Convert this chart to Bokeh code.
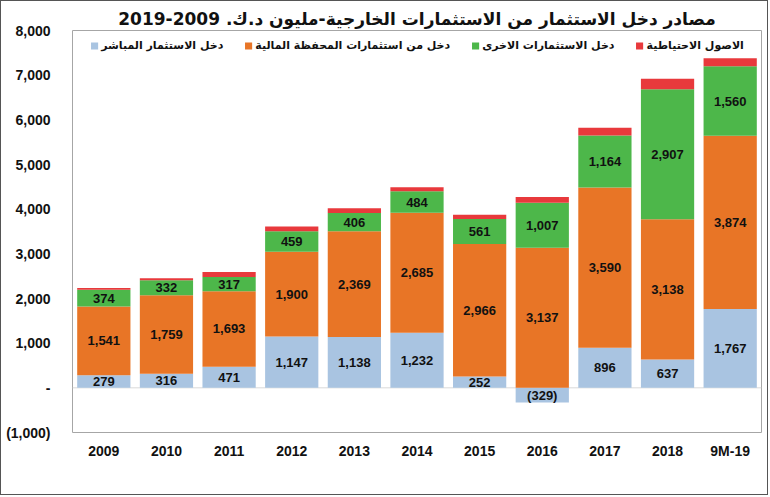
from bokeh.plotting import figure
from bokeh.models import (FactorRange, Range1d, ColumnDataSource, Legend, LegendItem,
                          CustomJSTickFormatter, FixedTicker, Span, LabelSet)
from bokeh.embed import file_html
from bokeh.resources import INLINE
from bokeh.core.properties import value

years = ["2009", "2010", "2011", "2012", "2013", "2014", "2015", "2016", "2017", "2018", "9M-19"]
direct = [279, 316, 471, 1147, 1138, 1232, 252, -329, 896, 637, 1767]
portfolio = [1541, 1759, 1693, 1900, 2369, 2685, 2966, 3137, 3590, 3138, 3874]
other = [374, 332, 317, 459, 406, 484, 561, 1007, 1164, 2907, 1560]
reserves = [40, 45, 110, 105, 105, 90, 97, 127, 170, 235, 180]

series_names = ["دخل الاستثمار المباشر", "دخل من استثمارات المحفظة المالية",
                "دخل الاستثمارات الاخرى", "الاصول الاحتياطية"]
series_values = [direct, portfolio, other, reserves]
series_colors = ["#A9C4E1", "#E87526", "#4DB74A", "#E8393C"]
show_labels = [True, True, True, False]

title_text = "مصادر دخل الاستثمار من الاستثمارات الخارجية-مليون د.ك. 2009-2019"


def fmt(v):
    s = f"{abs(v):,}"
    return f"({s})" if v < 0 else s


# stack positives and negatives separately (as the spreadsheet does)
pos = [0] * len(years)
neg = [0] * len(years)
sources = []
for vals in series_values:
    bottoms, tops, mids, labels = [], [], [], []
    for i, v in enumerate(vals):
        if v >= 0:
            b, t = pos[i], pos[i] + v
            pos[i] = t
        else:
            t, b = neg[i], neg[i] + v
            neg[i] = b
        bottoms.append(b)
        tops.append(t)
        mids.append((b + t) / 2)
        labels.append(fmt(v))
    sources.append(ColumnDataSource(dict(x=years, bottom=bottoms, top=tops, mid=mids, label=labels)))

p = figure(x_range=FactorRange(*years, range_padding=0), y_range=Range1d(-1000, 8000),
           width=768, height=495, output_backend="svg", toolbar_location=None,
           min_border_left=71, min_border_right=8, min_border_top=29, min_border_bottom=64,
           background_fill_color="white", border_fill_color="white")
p.styles = {"border": "1px solid #555555"}

p.title.text = title_text
p.title.align = "center"
p.title.text_font = "DejaVu Sans"
p.title.text_font_size = "17px"
p.title.text_font_style = "bold"
p.title.text_color = "#111111"
p.title.standoff = 4
p.title.offset = 20

p.xgrid.grid_line_color = None
p.ygrid.grid_line_color = None
p.outline_line_color = "#A6A6A6"
p.outline_line_width = 1

zero = Span(location=0, dimension="width", line_color="#D9D9D9", line_width=1, level="underlay")
p.add_layout(zero)

renderers = []
for src, col in zip(sources, series_colors):
    r = p.vbar(x="x", bottom="bottom", top="top", width=0.85, source=src,
               fill_color=col, line_color=None)
    renderers.append(r)

for src, show in zip(sources, show_labels):
    if show:
        p.add_layout(LabelSet(x="x", y="mid", text="label", source=src,
                              text_align="center", text_baseline="middle",
                              text_font=value("Liberation Sans"), text_font_size=value("13px"),
                              text_font_style="bold", text_color="#111111"))

p.yaxis.ticker = FixedTicker(ticks=list(range(-1000, 8001, 1000)))
p.yaxis.formatter = CustomJSTickFormatter(code="""
if (tick == 0) { return '-'; }
const s = Math.abs(tick).toLocaleString('en-US');
return tick < 0 ? '(' + s + ')' : s;
""")
for ax in (p.xaxis, p.yaxis):
    ax.axis_line_color = None
    ax.major_tick_line_color = None
    ax.minor_tick_line_color = None
    ax.major_label_text_font = "Liberation Sans"
    ax.major_label_text_font_size = "14px"
    ax.major_label_text_font_style = "bold"
    ax.major_label_text_color = "#111111"
p.yaxis.major_label_standoff = 16
p.xaxis.major_label_standoff = 4

items = [LegendItem(label=n, renderers=[r]) for n, r in zip(series_names, renderers)]
legend = Legend(items=items, orientation="horizontal", location="top_center",
                border_line_color=None, background_fill_alpha=0,
                label_text_font="DejaVu Sans", label_text_font_size="11px",
                label_text_font_style="bold", label_text_color="#111111",
                glyph_width=9, glyph_height=9, label_standoff=3, spacing=20,
                padding=4, margin=9)
p.add_layout(legend)

open("out.html", "w").write(file_html(p, INLINE))
